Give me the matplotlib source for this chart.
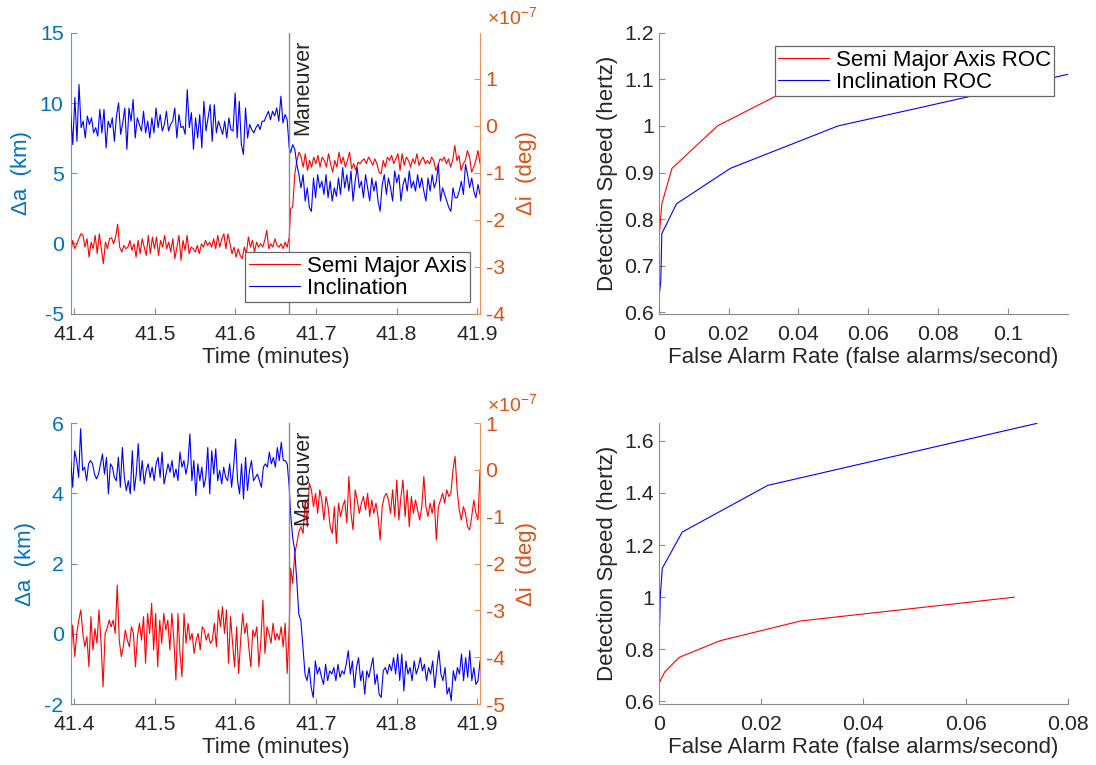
import numpy as np
import matplotlib.pyplot as plt
from matplotlib.ticker import FuncFormatter

plt.rcParams['font.family'] = ['Liberation Sans', 'DejaVu Sans']
plt.rcParams['axes.unicode_minus'] = False
plt.rcParams['mathtext.default'] = 'regular'

# time window (minutes) and maneuver time
t_start = 41.3955
t_end = 41.9035
t_man = 41.6667

# --- upper time panel: red = delta a (km, left axis), blue = delta i (1e-7 deg, right axis)
red1_pre = [-0.73, 0.22, -0.37, -0.02, 0.34, 0.69, 0.58, -0.26, 0.34, -0.97, 0.10, -0.37, 0.58, -0.73,
            0.69, -0.37, -1.44, 0.10, -0.37, 0.34, 0.41, -0.02, 0.46, 1.37, -0.26, -0.61, -0.14, -0.37,
            -0.26, 0.22, -0.49, -0.02, -0.97, 0.22, -0.73, 0.34, -0.26, -0.85, 0.58, -0.73, 0.46, -0.37,
            0.46, -0.85, 0.22, -0.26, 0.58, -0.37, 0.10, -0.61, 0.34, -1.08, -0.26, 0.58, -1.20, 0.22,
            -0.49, 0.58, -0.73, -0.26, -0.37, -0.61, -0.14, -0.73, -0.02, -0.26, 0.22, -0.14, 0.10, -0.26,
            0.34, -0.37, 0.58, -0.26, 0.34, 0.69, -0.37, 0.69, -0.02, -0.73, -0.26, -0.97, -0.37, -0.85,
            -1.08, -0.26, -0.73, 0.46, -0.26, 0.22, -0.61, 0.10, -0.26, -0.02, -0.26, 0.22, 0.93, -0.37,
            -0.02, -0.26, 0.34, -0.14, -0.26, -0.02, -0.37, 0.10, -0.26, 0.46]
red1_post = [2.47, 2.60, 4.96, 5.91, 6.51, 6.15, 5.44, 6.39, 5.20, 5.91, 5.44, 6.15, 5.68, 6.27, 5.44,
             6.15, 5.91, 5.44, 6.39, 5.68, 5.08, 5.91, 5.44, 6.51, 5.68, 6.15, 5.44, 5.91, 6.51, 5.32,
             5.68, 5.20, 5.79, 5.68, 5.91, 6.03, 5.68, 6.15, 5.91, 5.56, 6.03, 5.68, 5.08, 4.96, 5.91,
             5.44, 6.15, 5.91, 6.27, 5.68, 6.03, 6.39, 5.20, 6.39, 5.56, 6.15, 5.91, 5.44, 6.03, 5.68,
             6.39, 5.56, 5.91, 6.15, 5.68, 5.91, 5.68, 6.15, 5.91, 5.20, 5.56, 6.03, 5.91, 6.15, 5.68,
             6.03, 5.44, 5.91, 6.98, 5.91, 6.27, 5.20, 5.68, 5.91, 6.62, 6.15, 5.08, 5.44, 5.91, 6.62, 5.68]
blue1_pre = [0.24, -0.40, 0.60, -0.33, 0.88, -0.04, 0.10, -0.26, 0.21, 0.03, 0.17, -0.15, -0.04, -0.22,
             0.35, -0.15, 0.35, -0.47, 0.10, -0.04, 0.17, -0.33, 0.21, 0.49, -0.18, 0.06, 0.38, -0.50,
             0.38, 0.10, 0.56, -0.26, 0.17, 0.03, -0.11, 0.31, -0.15, 0.10, -0.26, 0.17, -0.15, 0.38,
             -0.04, 0.24, -0.11, 0.03, 0.31, -0.11, 0.03, 0.10, 0.38, -0.26, 0.24, -0.04, -0.01, -0.18,
             0.77, -0.04, 0.28, -0.50, 0.17, -0.26, 0.24, -0.47, 0.52, -0.11, 0.17, 0.45, -0.33, 0.45,
             -0.15, 0.10, -0.04, -0.18, 0.10, -0.26, 0.17, -0.08, -0.11, 0.70, -0.26, 0.52, -0.40, -0.61,
             0.38, -0.26, 0.03, -0.08, -0.15, -0.04, 0.03, -0.08, 0.10, 0.10, 0.21, 0.31, 0.13, 0.31,
             0.21, 0.38, 0.10, 0.63, 0.06, 0.24, 0.13, -0.47]
blue1_post = [-0.57, -0.40, -0.50, -0.82, -1.04, -1.32, -1.04, -1.60, -1.32, -1.74, -1.82, -1.11, -1.53,
              -1.04, -1.32, -1.18, -1.46, -1.04, -1.53, -1.18, -1.60, -1.32, -1.50, -1.11, -1.46, -0.89,
              -1.32, -1.04, -1.39, -0.96, -1.60, -1.18, -0.89, -1.32, -1.18, -1.53, -1.04, -1.32, -1.60,
              -1.11, -1.39, -1.18, -1.60, -1.82, -1.25, -1.04, -1.46, -1.11, -1.32, -1.60, -0.96, -1.21,
              -1.04, -1.60, -1.25, -1.11, -1.39, -0.96, -1.32, -1.18, -1.39, -1.04, -1.32, -1.11, -1.39,
              -1.60, -1.11, -1.39, -1.04, -1.32, -1.18, -0.82, -1.60, -1.32, -1.46, -1.60, -1.74, -1.82,
              -1.32, -1.53, -1.53, -1.39, -1.18, -1.46, -0.82, -1.04, -1.32, -1.11, -1.39, -1.53, -1.25, -1.46]

# --- lower time panel
red2_pre = [-0.84, 0.25, -0.65, 0.01, 0.39, 0.68, 0.01, -0.37, -0.08, -0.94, 0.49, -0.46, 0.15, -0.27,
            0.68, -0.27, -1.51, 0.01, 0.15, 0.39, 0.20, 0.39, 0.01, 1.39, -0.18, -0.65, -0.37, 0.11,
            -0.18, -0.37, 0.20, 0.01, -0.94, -0.08, 0.30, -0.18, 0.49, -0.84, 0.58, 0.01, 0.87, -0.46,
            0.58, -0.94, 0.39, -0.27, 0.58, 0.11, 0.39, -0.46, 0.58, -0.18, -1.32, 0.58, -0.56, -1.22,
            0.58, -0.27, 0.30, -0.18, 0.01, -0.56, -0.18, 0.01, -0.46, 0.20, 0.11, -0.18, 0.01, -0.27,
            -0.18, 0.30, -0.37, 0.68, 0.20, 0.77, 0.01, 0.68, -0.84, 0.49, -0.27, -0.94, 0.20, -1.13,
            -0.18, 0.58, 0.01, 0.30, -0.37, -0.94, 0.11, -0.08, 0.20, -0.94, -0.18, 0.96, -0.56, 0.20,
            0.01, -0.27, 0.30, -0.18, 0.01, -0.18, 0.20, -0.37, 0.30, -1.13, 0.20]
red2_post = [1.87, 1.44, 2.29, 2.58, 2.91, 3.05, 2.86, 3.81, 3.05, 4.29, 4.10, 3.62, 4.00, 3.43, 4.10,
             3.81, 3.24, 3.91, 3.62, 3.05, 2.86, 3.62, 2.58, 3.72, 3.34, 3.62, 3.81, 3.15, 4.48, 3.43,
             2.96, 4.10, 3.81, 3.43, 3.72, 3.91, 3.53, 4.00, 3.34, 3.81, 3.43, 3.72, 3.34, 2.67, 3.62,
             3.91, 4.00, 3.81, 3.43, 4.10, 3.34, 4.38, 3.24, 3.91, 4.38, 3.34, 4.10, 3.05, 3.91, 3.43,
             3.81, 3.53, 3.24, 3.62, 4.48, 3.62, 3.34, 3.72, 3.43, 3.81, 2.67, 3.62, 3.81, 4.00, 3.72,
             4.10, 3.91, 4.00, 4.67, 5.05, 4.10, 3.53, 3.24, 3.62, 3.43, 3.05, 2.96, 3.34, 3.81, 3.43,
             3.24, 4.67]
blue2_pre = [0.20, -0.37, 0.41, 0.20, -0.16, 0.88, -0.01, 0.06, -0.23, 0.13, 0.20, 0.13, -0.09, -0.19,
             -0.09, 0.13, 0.34, -0.09, 0.27, -0.51, 0.13, 0.06, -0.16, -0.23, 0.27, -0.37, 0.48, -0.16,
             -0.44, -0.23, -0.51, 0.41, -0.44, -0.09, 0.56, -0.23, 0.20, -0.30, -0.01, 0.13, -0.16, 0.06,
             -0.23, 0.13, 0.27, -0.16, 0.38, -0.30, -0.09, 0.13, -0.05, 0.20, -0.16, 0.02, -0.23, 0.38,
             0.06, 0.20, -0.09, 0.13, 0.77, -0.23, 0.20, -0.55, 0.13, -0.23, 0.06, -0.37, -0.16, 0.48,
             -0.51, 0.41, -0.09, 0.45, -0.23, -0.01, -0.30, 0.06, -0.16, -0.23, 0.13, -0.37, 0.06, 0.66,
             -0.23, -0.51, 0.13, -0.62, 0.27, -0.44, -0.01, 0.20, -0.23, -0.16, -0.09, -0.23, -0.37, 0.06,
             0.13, 0.06, 0.38, 0.13, 0.27, 0.06, 0.48, 0.20, 0.59, 0.20, 0.20, 0.13, -0.37]
blue2_post = [-0.94, -1.44, -1.72, -2.37, -3.08, -3.22, -3.79, -4.36, -4.50, -4.22, -4.65, -4.86, -4.08,
              -4.36, -4.22, -4.43, -4.58, -4.15, -4.50, -4.29, -4.36, -4.22, -4.50, -4.15, -4.43, -4.29,
              -4.36, -4.15, -3.86, -4.36, -4.08, -4.65, -4.22, -4.01, -4.50, -4.29, -4.79, -4.29, -4.43,
              -4.22, -4.01, -4.58, -4.36, -4.79, -4.86, -4.29, -4.22, -4.36, -4.15, -4.29, -4.01, -4.36,
              -3.93, -4.50, -3.93, -4.72, -4.08, -4.36, -4.22, -4.50, -4.08, -4.36, -4.22, -4.01, -4.29,
              -4.15, -4.50, -4.22, -4.36, -4.08, -4.65, -4.22, -3.86, -4.36, -4.50, -4.22, -4.79, -4.65,
              -4.93, -4.29, -4.50, -4.22, -4.36, -3.93, -4.50, -4.01, -4.43, -3.86, -4.50, -4.22, -4.58,
              -4.50, -4.08]

# --- ROC curves (false alarms/second vs detection speed in hertz)
roc1_sma_x = [0, 0.0002, 0.0009, 0.0038, 0.0168, 0.0335, 0.060]
roc1_sma_y = [0.667, 0.769, 0.833, 0.909, 1.0, 1.064, 1.125]
roc1_inc_x = [0, 0.0006, 0.0009, 0.0051, 0.0205, 0.0513, 0.0829, 0.1172]
roc1_inc_y = [0.625, 0.667, 0.769, 0.833, 0.909, 1.0, 1.053, 1.111]

roc2_sma_x = [0, 0, 0.0012, 0.0040, 0.0120, 0.0278, 0.0695]
roc2_sma_y = [0.6, 0.667, 0.714, 0.769, 0.833, 0.909, 1.0]
roc2_inc_x = [0, 0.0002, 0.0003, 0.0007, 0.0046, 0.0213, 0.0739]
roc2_inc_y = [0.833, 0.909, 1.0, 1.111, 1.25, 1.429, 1.667]

BLUE_AX = '#0072BD'
ORANGE_AX = '#D95319'
DARK = '#262626'
SPINE = '#8c8c8c'
TICK_FS = 15.4
LABEL_FS = 16

fig = plt.figure(figsize=(10.96, 7.65), dpi=100)

col_l = 0.0645
col_r = 0.6010
w = 0.3735
row_t = 0.5899
row_b = 0.0797
h = 0.3672


def time_panel(rect, red_pre, red_post, blue_pre, blue_post, ylim_a, yt_a, ylim_i, yt_i,
               legend, exp_dy):
    ax = fig.add_axes(rect)
    ax2 = ax.twinx()
    tp_r = np.linspace(t_start, t_man, len(red_pre))
    tq_r = np.linspace(t_man + 0.0017, t_end, len(red_post))
    tp_b = np.linspace(t_start, t_man, len(blue_pre))
    tq_b = np.linspace(t_man + 0.0017, t_end, len(blue_post))
    l1, = ax.plot(np.r_[tp_r, tq_r], red_pre + red_post, color='#FF0000', lw=0.8,
                  label='Semi Major Axis')
    l2, = ax2.plot(np.r_[tp_b, tq_b], blue_pre + blue_post, color='#0000FF', lw=0.8,
                   label='Inclination')
    ax2.axvline(t_man, color='#8a8a8a', lw=1.0)
    ax2.annotate('Maneuver', xy=(t_man, 1), xycoords=('data', 'axes fraction'),
                 xytext=(2.5, -5), textcoords='offset points', rotation=90,
                 ha='left', va='top', fontsize=LABEL_FS - 0.5, color=DARK)

    ax.set_xlim(t_start, t_end)
    ax.set_xticks([41.4, 41.5, 41.6, 41.7, 41.8, 41.9])
    ax.set_xticklabels(['41.4', '41.5', '41.6', '41.7', '41.8', '41.9'])
    ax.set_ylim(*ylim_a)
    ax.set_yticks(yt_a)
    ax2.set_ylim(*ylim_i)
    ax2.set_yticks(yt_i)

    for s in ['top', 'right']:
        ax.spines[s].set_visible(False)
    for s in ['top', 'left', 'bottom']:
        ax2.spines[s].set_visible(False)
    ax.spines['bottom'].set_color(SPINE)
    ax.spines['left'].set_color('#5b9bd5')
    ax2.spines['right'].set_color('#e8905e')

    ax.tick_params(axis='x', direction='in', length=4, colors=SPINE, labelcolor=DARK,
                   labelsize=TICK_FS, pad=8)
    ax.tick_params(axis='y', direction='in', length=4, colors='#5b9bd5', labelcolor=BLUE_AX,
                   labelsize=TICK_FS, pad=5)
    ax2.tick_params(axis='y', direction='in', length=4, colors='#e8905e', labelcolor=ORANGE_AX,
                    labelsize=TICK_FS, pad=4)

    ax.set_xlabel('Time (minutes)', fontsize=LABEL_FS, color=DARK, labelpad=2)
    ax.set_ylabel('\u0394a  (km)', fontsize=LABEL_FS, color=BLUE_AX, labelpad=6)
    ax2.set_ylabel('\u0394i  (deg)', fontsize=LABEL_FS, color=ORANGE_AX, labelpad=8)
    ax2.annotate(r'$\times10^{-7}$', xy=(1, 1), xycoords='axes fraction', xytext=(5, exp_dy),
                 textcoords='offset points', ha='left', va='baseline', color=ORANGE_AX,
                 fontsize=14)

    if legend:
        leg = ax2.legend([l1, l2], ['Semi Major Axis', 'Inclination'], loc='lower right',
                         bbox_to_anchor=(0.9743, 0.0416), borderaxespad=0, fontsize=LABEL_FS,
                         fancybox=False, framealpha=1, edgecolor='#666666',
                         handlelength=2.3, handletextpad=0.3, labelspacing=0.05, borderpad=0.15)
        leg.get_frame().set_linewidth(0.9)
    return ax, ax2


def roc_panel(rect, sx, sy, ix, iy, xlim, xt, ylim, yt, legend):
    ax = fig.add_axes(rect)
    l1, = ax.plot(sx, sy, color='#FF0000', lw=0.8, label='Semi Major Axis ROC')
    l2, = ax.plot(ix, iy, color='#0000FF', lw=0.8, label='Inclination ROC')
    ax.set_xlim(*xlim)
    ax.set_xticks(xt)
    ax.set_ylim(*ylim)
    ax.set_yticks(yt)
    fmt = FuncFormatter(lambda v, p: '%g' % round(v, 6))
    ax.xaxis.set_major_formatter(fmt)
    ax.yaxis.set_major_formatter(fmt)
    for s in ['top', 'right']:
        ax.spines[s].set_visible(False)
    for s in ['left', 'bottom']:
        ax.spines[s].set_color(SPINE)
    ax.tick_params(axis='both', direction='in', length=4, colors=SPINE, labelcolor=DARK,
                   labelsize=TICK_FS)
    ax.tick_params(axis='x', pad=8)
    ax.set_xlabel('False Alarm Rate (false alarms/second)', fontsize=LABEL_FS, color=DARK,
                  labelpad=2)
    ax.set_ylabel('Detection Speed (hertz)', fontsize=LABEL_FS, color=DARK, labelpad=4)
    if legend:
        leg = ax.legend([l1, l2], ['Semi Major Axis ROC', 'Inclination ROC'], loc='upper right',
                        bbox_to_anchor=(0.9668, 0.952), borderaxespad=0, fontsize=LABEL_FS,
                        fancybox=False, framealpha=1, edgecolor='#666666',
                        handlelength=2.3, handletextpad=0.3, labelspacing=0.05, borderpad=0.15)
        leg.get_frame().set_linewidth(0.9)
    return ax


time_panel([col_l, row_t, w, h], red1_pre, red1_post, blue1_pre, blue1_post,
           (-5, 15), [-5, 0, 5, 10, 15], (-4, 1.98), [-4, -3, -2, -1, 0, 1], True, 6.5)
time_panel([col_l, row_b, w, h], red2_pre, red2_post, blue2_pre, blue2_post,
           (-2, 6), [-2, 0, 2, 4, 6], (-5, 1), [-5, -4, -3, -2, -1, 0, 1], False, 9)

roc_panel([col_r, row_t, w, h], roc1_sma_x, roc1_sma_y, roc1_inc_x, roc1_inc_y,
          (0, 0.1172), [0, 0.02, 0.04, 0.06, 0.08, 0.1],
          (0.597, 1.2), [0.6, 0.7, 0.8, 0.9, 1.0, 1.1, 1.2], True)
roc_panel([col_r, row_b, w, h], roc2_sma_x, roc2_sma_y, roc2_inc_x, roc2_inc_y,
          (0, 0.08), [0, 0.02, 0.04, 0.06, 0.08],
          (0.59, 1.668), [0.6, 0.8, 1.0, 1.2, 1.4, 1.6], False)

fig.savefig('out.png', dpi=100)
